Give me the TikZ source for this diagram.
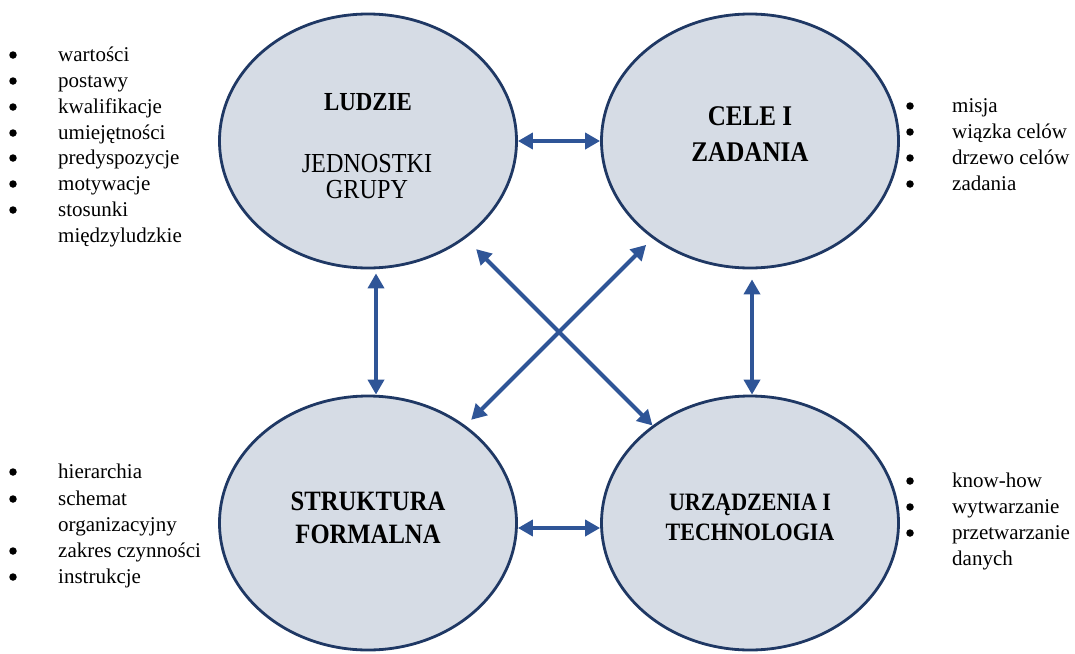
\documentclass[tikz,border=0pt]{standalone}
\usepackage{fontspec}
\setmainfont{Liberation Serif}
\newfontfamily\labfont[FakeStretch=0.88]{Liberation Serif}
\usetikzlibrary{shapes.geometric,arrows.meta}
\definecolor{efill}{HTML}{D6DCE5}
\definecolor{edraw}{HTML}{1F3864}
\definecolor{arr}{HTML}{2F5597}
\begin{document}
\begin{tikzpicture}[x=1pt,y=-1pt,
  blob/.style={ellipse, draw=edraw, line width=2.8pt, fill=efill, minimum width=297pt, minimum height=254pt, inner sep=0pt},
  link/.style={draw=arr, line width=4pt, {Triangle[length=15pt,width=16pt]}-{Triangle[length=15pt,width=16pt]}},
  head/.style={anchor=base, inner sep=0pt},
  item/.style={font=\fontsize{21}{25.8}\selectfont, anchor=base west, inner sep=0pt},
  dot/.style={circle, fill=black, minimum size=7.5pt, inner sep=0pt}]
\useasboundingbox (0,0) rectangle (1075,653);

% ellipses
\node[blob] (lud) at (368,141) {};
\node[blob] (cel) at (750,141) {};
\node[blob] (str) at (368,523) {};
\node[blob] (urz) at (750,523) {};

% ellipse texts
\node[head, font=\labfont\bfseries\fontsize{26}{30}\selectfont] (ludT) at (368,110) {LUDZIE};
\node[head, font=\labfont\fontsize{27.5}{30}\selectfont] (ludA) at (367,172) {JEDNOSTKI};
\node[head, font=\labfont\fontsize{27.5}{30}\selectfont] (ludB) at (367,198) {GRUPY};
\node[head, font=\labfont\bfseries\fontsize{28.5}{34}\selectfont] (celA) at (750,125) {CELE I};
\node[head, font=\labfont\bfseries\fontsize{28.5}{34}\selectfont] (celB) at (750,161) {ZADANIA};
\node[head, font=\labfont\bfseries\fontsize{28}{34}\selectfont] (strA) at (368,510) {STRUKTURA};
\node[head, font=\labfont\bfseries\fontsize{28}{34}\selectfont] (strB) at (368,543) {FORMALNA};
\node[head, font=\labfont\bfseries\fontsize{25}{30}\selectfont] (urzA) at (750,510) {URZĄDZENIA I};
\node[head, font=\labfont\bfseries\fontsize{25}{30}\selectfont] (urzB) at (750,540) {TECHNOLOGIA};

% connectors
\draw[link] (lud.east) -- (cel.west);
\draw[link] ([yshift=-5pt]str.east) -- ([yshift=-5pt]urz.west);
\draw[link, shorten <=4pt] ([xshift=8pt]lud.south) -- ([xshift=8pt]str.north);
\draw[link, shorten <=10pt] ([xshift=2pt]cel.south) -- ([xshift=2pt]urz.north);
\draw[link, shorten <=15pt] (lud) -- (urz);
\draw[link, shorten <=8pt, shorten >=9pt] (str) -- (cel);

% top-left list
\foreach \t/\y [count=\i] in {wartości/61, postawy/87, kwalifikacje/113, umiejętności/139, predyspozycje/164, motywacje/190, stosunki/216} {
  \node[dot] (tlb\i) at (13,\y-6) {};
  \node[item] (tl\i) at (58,\y) {\t};
}
\node[item] (tl8) at (58,242) {międzyludzkie};

% top-right list
\foreach \t/\y [count=\i] in {misja/112, wiązka celów/138, drzewo celów/164, zadania/190} {
  \node[dot] (trb\i) at (910,\y-6) {};
  \node[item] (tr\i) at (952,\y) {\t};
}

% bottom-left list
\foreach \t/\y [count=\i] in {hierarchia/478, schemat/505, zakres czynności/557, instrukcje/583} {
  \node[dot] (blb\i) at (13,\y-6) {};
  \node[item] (bl\i) at (58,\y) {\t};
}
\node[item] (bl5) at (58,531) {organizacyjny};

% bottom-right list
\foreach \t/\y [count=\i] in {know-how/487, wytwarzanie/513, przetwarzanie/539} {
  \node[dot] (brb\i) at (910,\y-6) {};
  \node[item] (br\i) at (952,\y) {\t};
}
\node[item] (br4) at (952,565) {danych};
\end{tikzpicture}
\end{document}
